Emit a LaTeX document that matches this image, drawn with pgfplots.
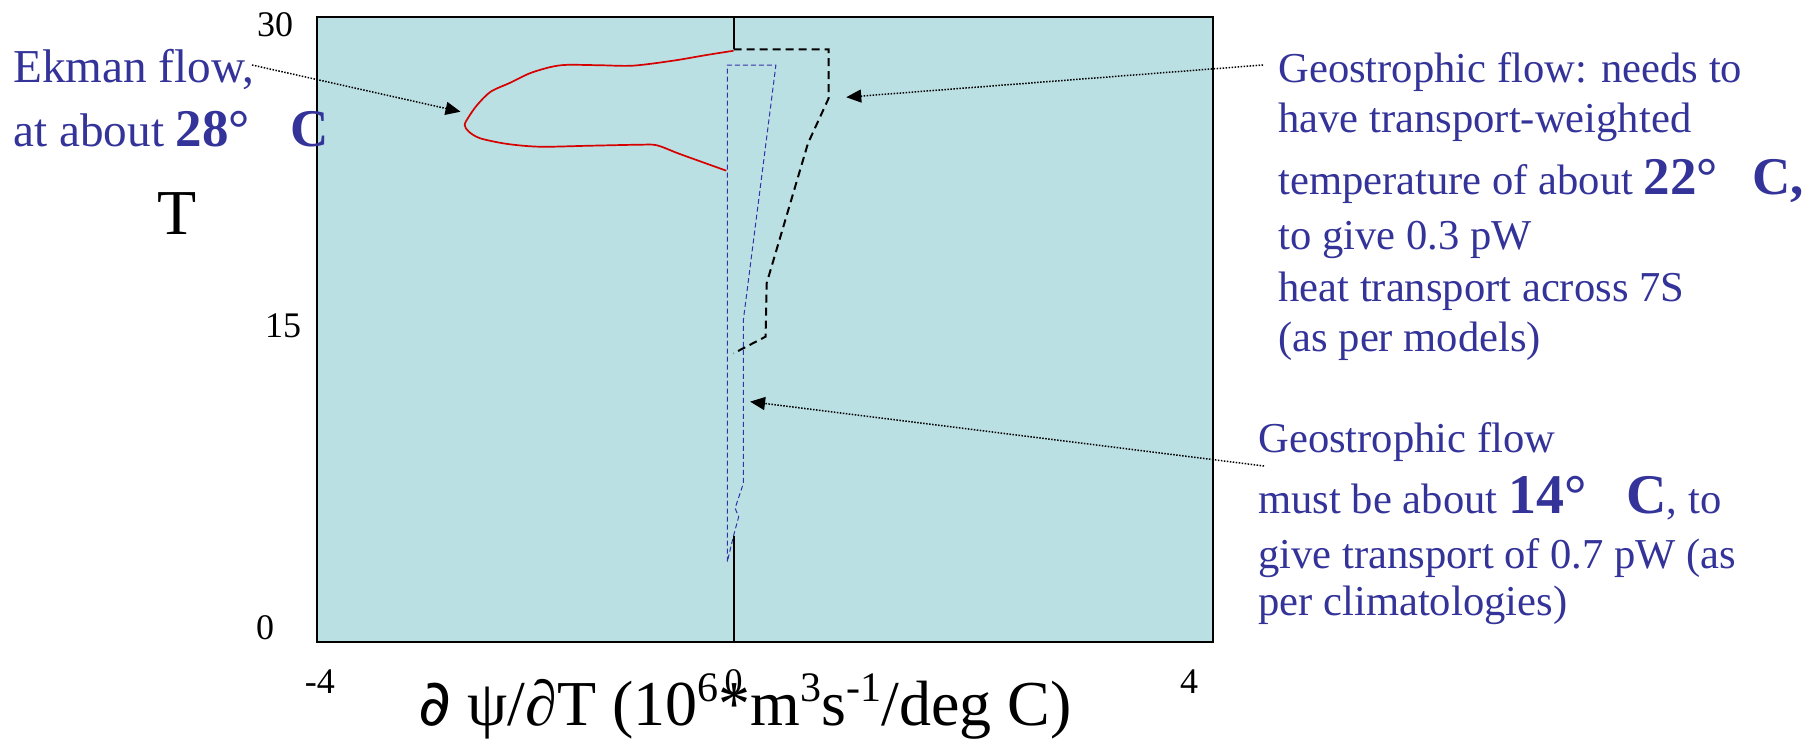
\documentclass[border=0pt]{standalone}
\usepackage{fontspec}
\setmainfont{Liberation Serif}
\setsansfont{Liberation Sans}
\newfontfamily\dejavu{DejaVu Sans}
\usepackage{pgfplots}
\pgfplotsset{compat=1.18}
\usetikzlibrary{arrows.meta}
\definecolor{bgc}{RGB}{187,224,227}
\definecolor{txtblue}{RGB}{51,51,153}
\definecolor{curvered}{RGB}{214,0,0}
\definecolor{dblue}{RGB}{51,51,170}
\newcommand{\sz}[1]{\fontsize{#1}{#1}\selectfont}
\newcommand{\sups}[1]{\raisebox{0.36em}{\sz{21}#1}}
\begin{document}
\begin{tikzpicture}
\useasboundingbox (0,0) rectangle (903.5pt,-371pt);
\begin{axis}[
  at={(158.5pt,-321pt)}, anchor=south west,
  width=448pt, height=312.5pt, scale only axis,
  xmin=-4.028, xmax=4.637, ymin=-0.696, ymax=30.368,
  axis background/.style={fill=bgc},
  axis line style={line width=1.2pt, black},
  xtick={-4,0,4.405}, xticklabels={-4,0,4},
  ytick={0,15,30}, yticklabels={{0\hspace*{10pt}},{\hspace*{8pt}15},{30}},
  major tick length=0pt,
  tick label style={font=\sz{18}},
  xticklabel style={anchor=center, yshift=-20pt},
  yticklabel style={anchor=center, xshift=-21pt},
  clip=false,
]
\addplot[curvered, line width=0.85pt, smooth, tension=0.5] coordinates {
 (0.00,28.69) (-0.26,28.48) (-0.58,28.20) (-0.97,27.95) (-1.29,27.97)
 (-1.61,27.99) (-1.77,27.88) (-1.97,27.57) (-2.16,27.10) (-2.35,26.65)
 (-2.48,25.99) (-2.56,25.41) (-2.60,25.00) (-2.56,24.67) (-2.45,24.34)
 (-2.19,24.06) (-1.87,23.92) (-1.39,23.97) (-0.91,24.02) (-0.74,23.99)
 (-0.52,23.56) (-0.07,22.73)};
\addplot[black, line width=1pt, dash pattern=on 4pt off 2.5pt] coordinates {
 (0,28.76) (0.92,28.76) (0.92,26.33) (0.72,24.09) (0.32,17.13) (0.31,14.48) (0.00,13.65)};
\addplot[dblue, line width=0.5pt, dash pattern=on 2.5pt off 1.5pt] coordinates {
 (-0.06,3.30) (-0.06,27.98) (0.41,27.98) (0.095,15.31) (0.095,7.19)
 (0.015,5.95) (0.05,5.53) (0,4.58) (-0.06,3.30)};
\addplot[black, line width=1pt] coordinates {(0,30.368) (0,28.76)};
\addplot[black, line width=1pt] coordinates {(0,4.58) (0,-0.696)};
\coordinate (tipA) at (axis cs:-2.64,25.66);
\coordinate (tipB) at (axis cs:1.09,26.38);
\coordinate (tipC) at (axis cs:0.16,11.25);
\end{axis}
\begin{scope}[x=0.5pt,y=-0.5pt]
\tikzset{ann/.style={line width=0.75pt, dash pattern=on 0.75pt off 0.75pt,
  -{Triangle[length=7.5pt,width=6.5pt]}}}
\draw[ann] (252,65) -- (tipA);
\draw[ann] (1263,65) -- (tipB);
\draw[ann] (1264,466) -- (tipC);
% axis labels
\node[anchor=base, inner sep=0, font=\sz{32}] at (177.5,235) {T};
\node[anchor=base, inner sep=0, font=\sz{32}] at (745,725)
  {{\dejavu ∂} ψ/∂T (10\sups{6}*m\sups{3}s\sups{-1}/deg C)};
% left annotation
\node[anchor=base west, inner sep=0, txtblue, font=\sz{23.6}] at (13,83) {Ekman flow,};
\node[anchor=base west, inner sep=0, txtblue, font=\sz{23.6}] at (13,147)
  {at about {\sz{26.5}\bfseries 28°\hspace{20pt}C}};
% right annotations
\begin{scope}[every node/.style={anchor=base west, inner sep=0, txtblue, font=\sz{21.3}}]
\node at (1278,83) {Geostrophic flow: needs to};
\node at (1278,133) {have transport-weighted};
\node at (1278,195) {temperature of about {\sz{26.5}\bfseries 22°\hspace{17pt}C,}};
\node at (1278,250) {to give 0.3 pW};
\node at (1278,302) {heat transport across 7S};
\node at (1278,352) {(as per models)};
\node at (1258,452) {Geostrophic flow};
\node at (1258,513) {must be about {\sz{28}\bfseries 14°\hspace{20pt}C}, to};
\node at (1258,568) {give transport of 0.7 pW (as};
\node at (1258,615) {per climatologies)};
\end{scope}
\end{scope}
\end{tikzpicture}
\end{document}
